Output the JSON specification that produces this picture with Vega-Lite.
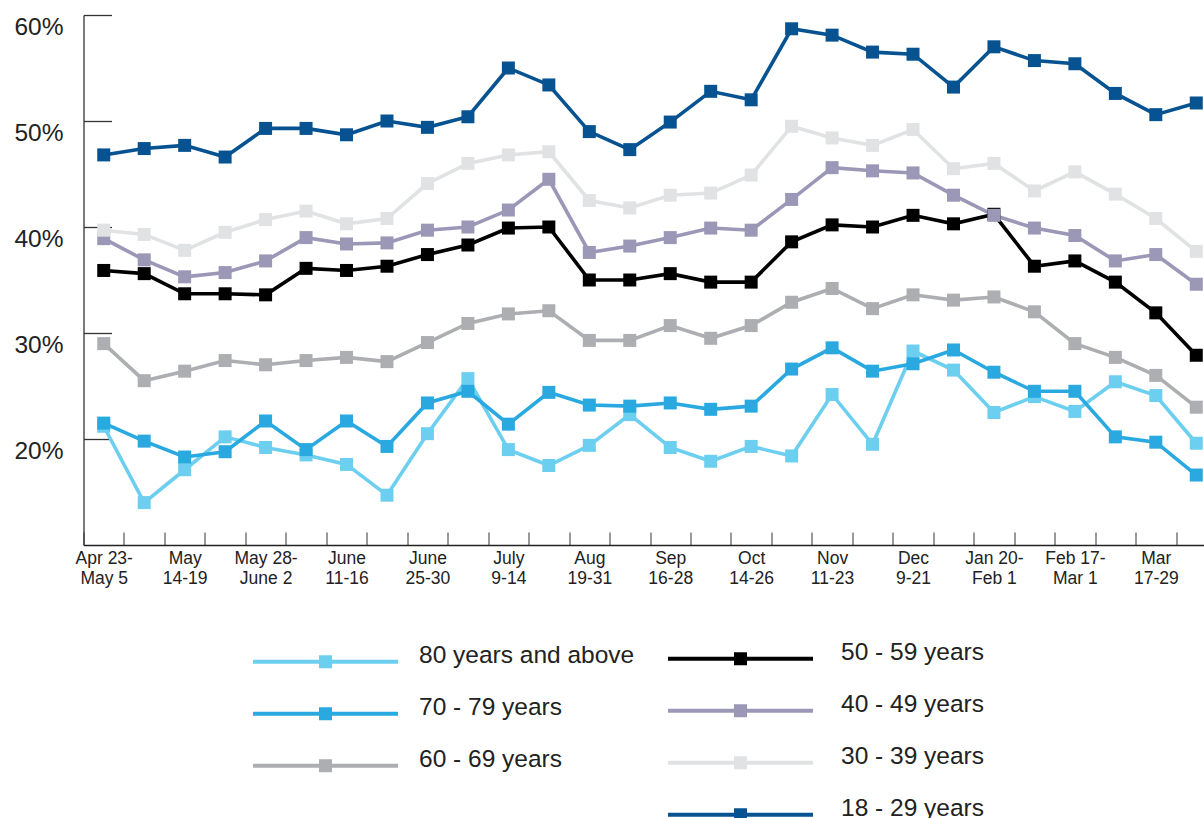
{
  "$schema": "https://vega.github.io/schema/vega-lite/v6.json",
  "width": 1120.5,
  "height": 530,
  "autosize": "none",
  "padding": {"left": 83.5, "top": 15, "right": 0, "bottom": 273},
  "config": {
    "view": {"stroke": null},
    "font": "Liberation Sans",
    "axis": {"grid": false, "title": null, "labelFlush": false}
  },
  "data": {
    "values": [
      {"week":1,"group":"80 years and above","pct":21.2},{"week":2,"group":"80 years and above","pct":14.0},{"week":3,"group":"80 years and above","pct":17.1},{"week":4,"group":"80 years and above","pct":20.2},{"week":5,"group":"80 years and above","pct":19.2},{"week":6,"group":"80 years and above","pct":18.5},{"week":7,"group":"80 years and above","pct":17.6},{"week":8,"group":"80 years and above","pct":14.7},{"week":9,"group":"80 years and above","pct":20.5},{"week":10,"group":"80 years and above","pct":25.7},{"week":11,"group":"80 years and above","pct":19.0},{"week":12,"group":"80 years and above","pct":17.5},{"week":13,"group":"80 years and above","pct":19.4},{"week":14,"group":"80 years and above","pct":22.3},{"week":15,"group":"80 years and above","pct":19.2},{"week":16,"group":"80 years and above","pct":17.9},{"week":17,"group":"80 years and above","pct":19.3},{"week":18,"group":"80 years and above","pct":18.4},{"week":19,"group":"80 years and above","pct":24.2},{"week":20,"group":"80 years and above","pct":19.5},{"week":21,"group":"80 years and above","pct":28.3},{"week":22,"group":"80 years and above","pct":26.5},{"week":23,"group":"80 years and above","pct":22.5},{"week":24,"group":"80 years and above","pct":24.0},{"week":25,"group":"80 years and above","pct":22.6},{"week":26,"group":"80 years and above","pct":25.4},{"week":27,"group":"80 years and above","pct":24.1},{"week":28,"group":"80 years and above","pct":19.6},
      {"week":1,"group":"70 - 79 years","pct":21.5},{"week":2,"group":"70 - 79 years","pct":19.8},{"week":3,"group":"70 - 79 years","pct":18.3},{"week":4,"group":"70 - 79 years","pct":18.8},{"week":5,"group":"70 - 79 years","pct":21.7},{"week":6,"group":"70 - 79 years","pct":19.0},{"week":7,"group":"70 - 79 years","pct":21.7},{"week":8,"group":"70 - 79 years","pct":19.3},{"week":9,"group":"70 - 79 years","pct":23.4},{"week":10,"group":"70 - 79 years","pct":24.5},{"week":11,"group":"70 - 79 years","pct":21.4},{"week":12,"group":"70 - 79 years","pct":24.4},{"week":13,"group":"70 - 79 years","pct":23.2},{"week":14,"group":"70 - 79 years","pct":23.1},{"week":15,"group":"70 - 79 years","pct":23.4},{"week":16,"group":"70 - 79 years","pct":22.8},{"week":17,"group":"70 - 79 years","pct":23.1},{"week":18,"group":"70 - 79 years","pct":26.6},{"week":19,"group":"70 - 79 years","pct":28.6},{"week":20,"group":"70 - 79 years","pct":26.4},{"week":21,"group":"70 - 79 years","pct":27.1},{"week":22,"group":"70 - 79 years","pct":28.4},{"week":23,"group":"70 - 79 years","pct":26.3},{"week":24,"group":"70 - 79 years","pct":24.5},{"week":25,"group":"70 - 79 years","pct":24.5},{"week":26,"group":"70 - 79 years","pct":20.2},{"week":27,"group":"70 - 79 years","pct":19.7},{"week":28,"group":"70 - 79 years","pct":16.6},
      {"week":1,"group":"60 - 69 years","pct":29.0},{"week":2,"group":"60 - 69 years","pct":25.5},{"week":3,"group":"60 - 69 years","pct":26.4},{"week":4,"group":"60 - 69 years","pct":27.4},{"week":5,"group":"60 - 69 years","pct":27.0},{"week":6,"group":"60 - 69 years","pct":27.4},{"week":7,"group":"60 - 69 years","pct":27.7},{"week":8,"group":"60 - 69 years","pct":27.3},{"week":9,"group":"60 - 69 years","pct":29.1},{"week":10,"group":"60 - 69 years","pct":30.9},{"week":11,"group":"60 - 69 years","pct":31.8},{"week":12,"group":"60 - 69 years","pct":32.1},{"week":13,"group":"60 - 69 years","pct":29.3},{"week":14,"group":"60 - 69 years","pct":29.3},{"week":15,"group":"60 - 69 years","pct":30.7},{"week":16,"group":"60 - 69 years","pct":29.5},{"week":17,"group":"60 - 69 years","pct":30.7},{"week":18,"group":"60 - 69 years","pct":32.9},{"week":19,"group":"60 - 69 years","pct":34.2},{"week":20,"group":"60 - 69 years","pct":32.3},{"week":21,"group":"60 - 69 years","pct":33.6},{"week":22,"group":"60 - 69 years","pct":33.1},{"week":23,"group":"60 - 69 years","pct":33.4},{"week":24,"group":"60 - 69 years","pct":32.0},{"week":25,"group":"60 - 69 years","pct":29.0},{"week":26,"group":"60 - 69 years","pct":27.7},{"week":27,"group":"60 - 69 years","pct":26.0},{"week":28,"group":"60 - 69 years","pct":23.0},
      {"week":1,"group":"50 - 59 years","pct":35.9},{"week":2,"group":"50 - 59 years","pct":35.6},{"week":3,"group":"50 - 59 years","pct":33.7},{"week":4,"group":"50 - 59 years","pct":33.7},{"week":5,"group":"50 - 59 years","pct":33.6},{"week":6,"group":"50 - 59 years","pct":36.1},{"week":7,"group":"50 - 59 years","pct":35.9},{"week":8,"group":"50 - 59 years","pct":36.3},{"week":9,"group":"50 - 59 years","pct":37.4},{"week":10,"group":"50 - 59 years","pct":38.3},{"week":11,"group":"50 - 59 years","pct":39.9},{"week":12,"group":"50 - 59 years","pct":40.0},{"week":13,"group":"50 - 59 years","pct":35.0},{"week":14,"group":"50 - 59 years","pct":35.0},{"week":15,"group":"50 - 59 years","pct":35.6},{"week":16,"group":"50 - 59 years","pct":34.8},{"week":17,"group":"50 - 59 years","pct":34.8},{"week":18,"group":"50 - 59 years","pct":38.6},{"week":19,"group":"50 - 59 years","pct":40.2},{"week":20,"group":"50 - 59 years","pct":40.0},{"week":21,"group":"50 - 59 years","pct":41.1},{"week":22,"group":"50 - 59 years","pct":40.3},{"week":23,"group":"50 - 59 years","pct":41.2},{"week":24,"group":"50 - 59 years","pct":36.3},{"week":25,"group":"50 - 59 years","pct":36.8},{"week":26,"group":"50 - 59 years","pct":34.8},{"week":27,"group":"50 - 59 years","pct":31.9},{"week":28,"group":"50 - 59 years","pct":27.9},
      {"week":1,"group":"40 - 49 years","pct":38.9},{"week":2,"group":"40 - 49 years","pct":36.9},{"week":3,"group":"40 - 49 years","pct":35.3},{"week":4,"group":"40 - 49 years","pct":35.7},{"week":5,"group":"40 - 49 years","pct":36.8},{"week":6,"group":"40 - 49 years","pct":39.0},{"week":7,"group":"40 - 49 years","pct":38.4},{"week":8,"group":"40 - 49 years","pct":38.5},{"week":9,"group":"40 - 49 years","pct":39.7},{"week":10,"group":"40 - 49 years","pct":40.0},{"week":11,"group":"40 - 49 years","pct":41.6},{"week":12,"group":"40 - 49 years","pct":44.5},{"week":13,"group":"40 - 49 years","pct":37.6},{"week":14,"group":"40 - 49 years","pct":38.2},{"week":15,"group":"40 - 49 years","pct":39.0},{"week":16,"group":"40 - 49 years","pct":39.9},{"week":17,"group":"40 - 49 years","pct":39.7},{"week":18,"group":"40 - 49 years","pct":42.6},{"week":19,"group":"40 - 49 years","pct":45.6},{"week":20,"group":"40 - 49 years","pct":45.3},{"week":21,"group":"40 - 49 years","pct":45.1},{"week":22,"group":"40 - 49 years","pct":43.0},{"week":23,"group":"40 - 49 years","pct":41.1},{"week":24,"group":"40 - 49 years","pct":39.9},{"week":25,"group":"40 - 49 years","pct":39.2},{"week":26,"group":"40 - 49 years","pct":36.8},{"week":27,"group":"40 - 49 years","pct":37.4},{"week":28,"group":"40 - 49 years","pct":34.6},
      {"week":1,"group":"30 - 39 years","pct":39.7},{"week":2,"group":"30 - 39 years","pct":39.3},{"week":3,"group":"30 - 39 years","pct":37.8},{"week":4,"group":"30 - 39 years","pct":39.5},{"week":5,"group":"30 - 39 years","pct":40.7},{"week":6,"group":"30 - 39 years","pct":41.5},{"week":7,"group":"30 - 39 years","pct":40.3},{"week":8,"group":"30 - 39 years","pct":40.8},{"week":9,"group":"30 - 39 years","pct":44.1},{"week":10,"group":"30 - 39 years","pct":46.0},{"week":11,"group":"30 - 39 years","pct":46.8},{"week":12,"group":"30 - 39 years","pct":47.1},{"week":13,"group":"30 - 39 years","pct":42.5},{"week":14,"group":"30 - 39 years","pct":41.8},{"week":15,"group":"30 - 39 years","pct":43.0},{"week":16,"group":"30 - 39 years","pct":43.2},{"week":17,"group":"30 - 39 years","pct":44.9},{"week":18,"group":"30 - 39 years","pct":49.5},{"week":19,"group":"30 - 39 years","pct":48.4},{"week":20,"group":"30 - 39 years","pct":47.7},{"week":21,"group":"30 - 39 years","pct":49.2},{"week":22,"group":"30 - 39 years","pct":45.5},{"week":23,"group":"30 - 39 years","pct":46.0},{"week":24,"group":"30 - 39 years","pct":43.4},{"week":25,"group":"30 - 39 years","pct":45.2},{"week":26,"group":"30 - 39 years","pct":43.1},{"week":27,"group":"30 - 39 years","pct":40.8},{"week":28,"group":"30 - 39 years","pct":37.7},
      {"week":1,"group":"18 - 29 years","pct":46.8},{"week":2,"group":"18 - 29 years","pct":47.4},{"week":3,"group":"18 - 29 years","pct":47.7},{"week":4,"group":"18 - 29 years","pct":46.6},{"week":5,"group":"18 - 29 years","pct":49.3},{"week":6,"group":"18 - 29 years","pct":49.3},{"week":7,"group":"18 - 29 years","pct":48.7},{"week":8,"group":"18 - 29 years","pct":50.0},{"week":9,"group":"18 - 29 years","pct":49.4},{"week":10,"group":"18 - 29 years","pct":50.4},{"week":11,"group":"18 - 29 years","pct":55.0},{"week":12,"group":"18 - 29 years","pct":53.4},{"week":13,"group":"18 - 29 years","pct":49.0},{"week":14,"group":"18 - 29 years","pct":47.3},{"week":15,"group":"18 - 29 years","pct":49.9},{"week":16,"group":"18 - 29 years","pct":52.8},{"week":17,"group":"18 - 29 years","pct":52.0},{"week":18,"group":"18 - 29 years","pct":58.7},{"week":19,"group":"18 - 29 years","pct":58.1},{"week":20,"group":"18 - 29 years","pct":56.5},{"week":21,"group":"18 - 29 years","pct":56.3},{"week":22,"group":"18 - 29 years","pct":53.2},{"week":23,"group":"18 - 29 years","pct":57.0},{"week":24,"group":"18 - 29 years","pct":55.7},{"week":25,"group":"18 - 29 years","pct":55.4},{"week":26,"group":"18 - 29 years","pct":52.6},{"week":27,"group":"18 - 29 years","pct":50.6},{"week":28,"group":"18 - 29 years","pct":51.7}
    ]
  },
  "encoding": {
    "x": {
      "field": "week",
      "type": "ordinal",
      "scale": {"type": "band", "paddingInner": 0, "paddingOuter": 0, "range": [0, 1133]},
      "axis": {
        "labelAngle": 0,
        "labelExpr": "split((['Apr 23-|May 5','','May|14-19','','May 28-|June 2','','June|11-16','','June|25-30','','July|9-14','','Aug|19-31','','Sep|16-28','','Oct|14-26','','Nov|11-23','','Dec|9-21','','Jan 20-|Feb 1','','Feb 17-|Mar 1','','Mar|17-29',''][datum.value - 1]) || '', '|')",
        "labelOverlap": false,
        "tickBand": "extent",
        "tickSize": -13,
        "tickColor": "#555555",
        "tickWidth": 1.2,
        "domainColor": "#222222",
        "domainWidth": 1.3,
        "labelFontSize": 17.5,
        "labelLineHeight": 20,
        "labelPadding": 17,
        "labelColor": "#222222"
      }
    },
    "y": {
      "field": "pct",
      "type": "quantitative",
      "scale": {"domain": [10, 60], "nice": false, "zero": false},
      "axis": {
        "values": [20, 30, 40, 50, 60],
        "labelExpr": "datum.value + '%'",
        "tickSize": -28,
        "tickColor": "#333333",
        "tickWidth": 1.3,
        "domainColor": "#333333",
        "domainWidth": 1.3,
        "labelFontSize": 24.5,
        "labelPadding": 48.5,
        "labelOffset": 12,
        "labelColor": "#222222"
      }
    }
  },
  "layer": [
    {
      "mark": {"type": "line", "strokeWidth": 3.6},
      "encoding": {
        "stroke": {
          "field": "group",
          "type": "nominal",
          "scale": {
            "domain": ["80 years and above", "70 - 79 years", "60 - 69 years", "50 - 59 years", "40 - 49 years", "30 - 39 years", "18 - 29 years"],
            "range": ["#6dcff0", "#29a9e0", "#adaeb1", "#000000", "#9b97b6", "#e1e2e4", "#075391"]
          },
          "legend": null
        }
      }
    },
    {
      "transform": [{"filter": {"field": "group", "oneOf": ["80 years and above", "70 - 79 years", "60 - 69 years"]}}],
      "mark": {"type": "point", "shape": "square", "size": 169, "filled": true, "opacity": 1, "strokeWidth": 0},
      "encoding": {
        "color": {
          "field": "group",
          "type": "nominal",
          "scale": {"domain": ["80 years and above", "70 - 79 years", "60 - 69 years"], "range": ["#6dcff0", "#29a9e0", "#adaeb1"]},
          "legend": {
            "title": null,
            "orient": "none",
            "legendX": 169.5,
            "legendY": 615,
            "direction": "vertical",
            "padding": 0,
            "symbolType": "M-1,0.055H1V0.11H-1Z M-0.09,-0.007H0.09V0.173H-0.09Z",
            "symbolSize": 21025,
            "symbolStrokeWidth": 0,
            "symbolOpacity": 1,
            "clipHeight": 51.5,
            "rowPadding": 0,
            "labelOffset": 21,
            "labelFontSize": 24.5,
            "labelColor": "#222222",
            "labelLimit": 400
          }
        }
      }
    },
    {
      "transform": [{"filter": {"field": "group", "oneOf": ["50 - 59 years", "40 - 49 years", "30 - 39 years", "18 - 29 years"]}}],
      "mark": {"type": "point", "shape": "square", "size": 169, "filled": true, "opacity": 1, "strokeWidth": 0},
      "encoding": {
        "color": {
          "field": "group",
          "type": "nominal",
          "scale": {"domain": ["50 - 59 years", "40 - 49 years", "30 - 39 years", "18 - 29 years"], "range": ["#000000", "#9b97b6", "#e1e2e4", "#075391"]},
          "legend": {
            "title": null,
            "orient": "none",
            "legendX": 584.5,
            "legendY": 612,
            "direction": "vertical",
            "padding": 0,
            "symbolType": "M-1,0.055H1V0.11H-1Z M-0.09,-0.007H0.09V0.173H-0.09Z",
            "symbolSize": 21025,
            "symbolStrokeWidth": 0,
            "symbolOpacity": 1,
            "clipHeight": 51.5,
            "rowPadding": 0,
            "labelOffset": 28,
            "labelFontSize": 24.5,
            "labelColor": "#222222",
            "labelLimit": 400
          }
        }
      }
    }
  ],
  "resolve": {"scale": {"color": "independent"}}
}
